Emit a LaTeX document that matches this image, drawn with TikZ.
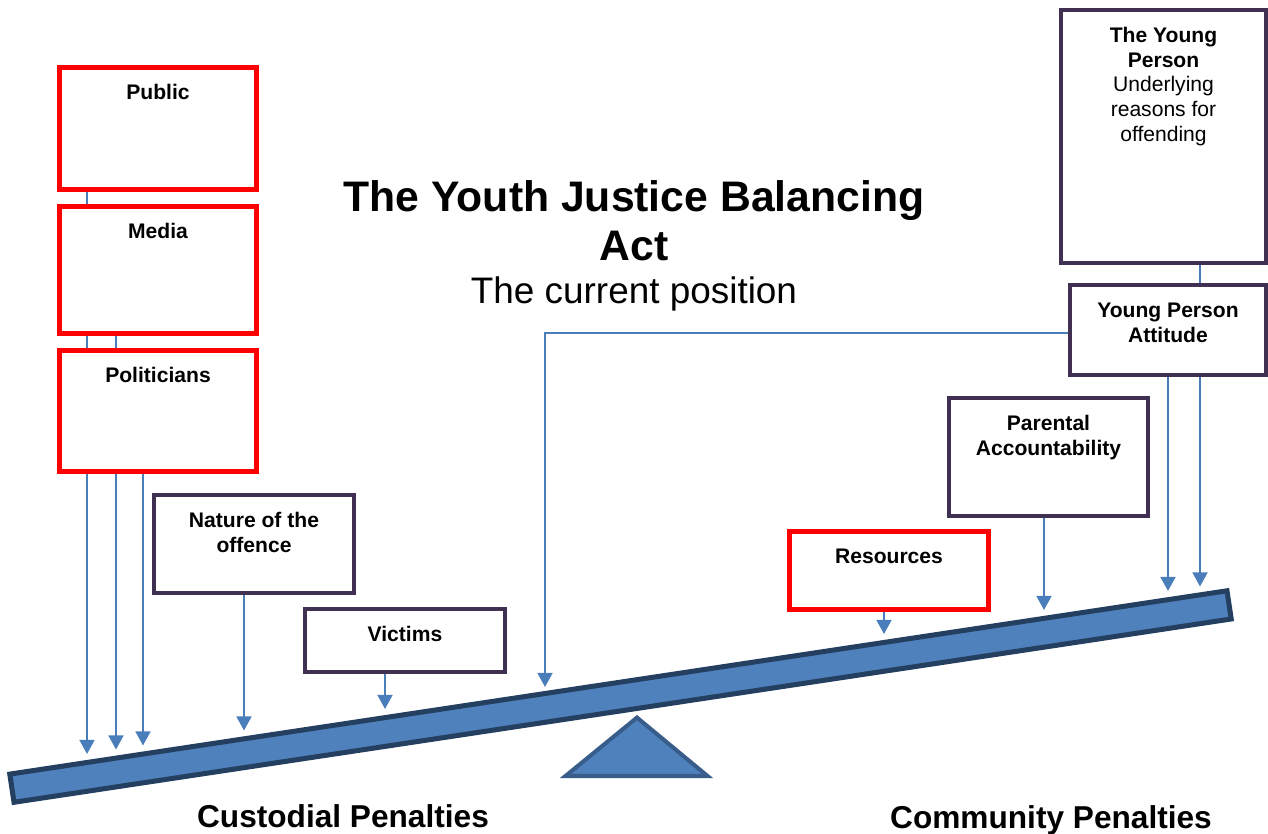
\documentclass[tikz,border=0pt]{standalone}
\usepackage{fontspec}
\setmainfont{Liberation Sans}
\usetikzlibrary{arrows.meta,backgrounds}

\newcommand{\toptext}[3]{\parbox[c][#2][t]{#1}{\centering\rule{0pt}{0.65cm}#3}}

\tikzset{
  redbox/.style={shape=rectangle,draw=cred,line width=2.8pt,fill=white,inner sep=0pt,
    font=\fontsize{12}{14}\selectfont\bfseries},
  plumbox/.style={shape=rectangle,draw=cplum,line width=2.5pt,fill=white,inner sep=0pt,
    font=\fontsize{12}{14}\selectfont\bfseries},
  conn/.style={draw=carrow,line width=1.15pt,-{Triangle[width=8.5pt,length=8pt]}},
}

\begin{document}
\begin{tikzpicture}
\definecolor{cred}{rgb}{1.0,0.0,0.0}
\definecolor{cplum}{rgb}{0.251,0.192,0.322}
\definecolor{carrow}{rgb}{0.29,0.494,0.733}
\definecolor{cbeam}{rgb}{0.31,0.506,0.741}
\definecolor{cbeamline}{rgb}{0.141,0.247,0.376}
\definecolor{cfulcline}{rgb}{0.22,0.365,0.541}
%
\useasboundingbox (0,0) rectangle (25.36,16.68);
%
\node[font=\fontsize{24.3}{27.5}\selectfont\bfseries,align=center,inner sep=0pt,anchor=north] (title) at (12.68,13.07) {The Youth Justice Balancing\\Act};
\node[font=\fontsize{21}{25}\selectfont,inner sep=0pt,anchor=base] (subtitle) at (12.68,10.60) {The current position};
%
\node[redbox] (pub) at (3.16,14.11) {\toptext{3.94cm}{2.44cm}{Public}};
\node[redbox] (med) at (3.16,11.28) {\toptext{3.94cm}{2.54cm}{Media}};
\node[redbox] (pol) at (3.16,8.46) {\toptext{3.94cm}{2.42cm}{Politicians}};
\node[plumbox] (nat) at (5.08,5.80) {\toptext{3.99cm}{1.95cm}{Nature of the\\offence}};
\node[plumbox] (vic) at (8.10,3.87) {\toptext{3.99cm}{1.25cm}{Victims}};
\node[redbox] (res) at (17.78,5.27) {\toptext{3.98cm}{1.56cm}{Resources}};
\node[plumbox] (par) at (20.97,7.54) {\toptext{3.97cm}{2.35cm}{Parental\\Accountability}};
\node[plumbox] (ypa) at (23.36,10.08) {\toptext{3.91cm}{1.79cm}{Young Person\\Attitude}};
\node[plumbox] (yp) at (23.27,13.95) {\toptext{4.09cm}{5.05cm}{The Young\\Person\\\mdseries Underlying\\reasons for\\offending}};
%
\node[shape=rectangle,rotate=8.565,minimum width=24.62cm,minimum height=0.57cm,inner sep=0pt,
  fill=cbeam,draw=cbeamline,line width=2.85pt] (beam) at (12.41,2.749) {};
\draw[fill=cbeam,draw=cfulcline,line width=2.3pt] (12.74,2.328) -- (14.15,1.16) -- (11.31,1.16) -- cycle;
%
\node[font=\fontsize{18}{22}\selectfont\bfseries,inner sep=0pt,anchor=base] (cust) at (6.86,0.12) {Custodial Penalties};
\node[font=\fontsize{18}{22}\selectfont\bfseries,inner sep=0pt,anchor=base] (comm) at (21.02,0.11) {Community Penalties};
%
\coordinate (tpub) at (1.74,1.60);
\coordinate (tmed) at (2.32,1.69);
\coordinate (tpol) at (2.86,1.77);
\coordinate (tnat) at (4.88,2.07);
\coordinate (tvic) at (7.70,2.50);
\coordinate (tel) at (10.90,2.94);
\coordinate (tres) at (17.68,4.00);
\coordinate (tpar) at (20.88,4.48);
\coordinate (typa) at (23.36,4.86);
\coordinate (typ) at (24.00,4.95);
%
\begin{scope}[on background layer]
\draw[conn] (pub.south -| tpub) -- (tpub);
\draw[conn] (med.south -| tmed) -- (tmed);
\draw[conn] (pol.south -| tpol) -- (tpol);
\draw[conn] (nat.south -| tnat) -- (tnat);
\draw[conn] (vic.south -| tvic) -- (tvic);
\draw[conn] ([yshift=-0.06cm]ypa.west) -| (tel);
\draw[conn] (res.south -| tres) -- (tres);
\draw[conn] (par.south -| tpar) -- (tpar);
\draw[conn] (ypa.south -| typa) -- (typa);
\draw[conn] (yp.south -| typ) -- (typ);
\end{scope}
%
\end{tikzpicture}
\end{document}
